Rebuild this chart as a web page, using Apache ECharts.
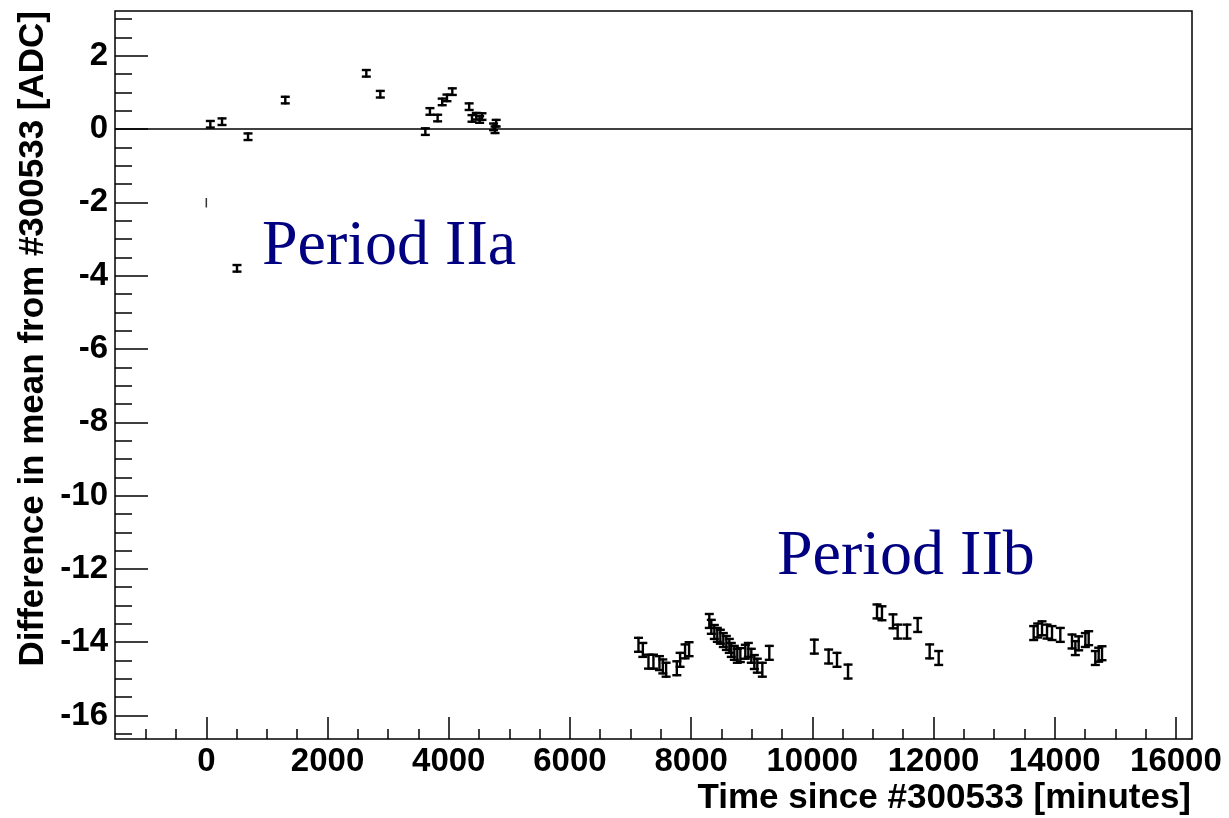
<!DOCTYPE html>
<html>
<head>
<meta charset="utf-8">
<script src="https://cdn.jsdelivr.net/npm/echarts@6/dist/echarts.min.js"></script>
<style>
html,body{margin:0;padding:0;background:#fff;}
#chart{width:1229px;height:818px;}
</style>
</head>
<body>
<div id="chart"></div>
<script>
// ---- data ----
// Period IIa: time [minutes], difference [ADC], error [ADC]
const xA = [66, 259, 506, 688, 1303, 2640, 2871, 3614, 3690, 3817, 3892, 3971, 4059, 4337, 4384, 4455, 4510, 4549, 4740, 4764, 4783];
const yA = [0.13, 0.2, -3.8, -0.21, 0.79, 1.52, 0.95, -0.07, 0.48, 0.3, 0.74, 0.85, 1.02, 0.61, 0.29, 0.35, 0.26, 0.34, 0.06, -0.02, 0.16];
const eA = [0.09, 0.09, 0.09, 0.09, 0.09, 0.09, 0.09, 0.09, 0.09, 0.09, 0.09, 0.09, 0.09, 0.09, 0.09, 0.09, 0.09, 0.09, 0.09, 0.09, 0.09];
// reference run point (drawn as a bare bar)
const xR = [0];
const yR = [-2.01];
const eR = [0.13];
// Period IIb
const xB = [7131, 7203, 7296, 7378, 7477, 7533, 7587, 7764, 7818, 7900, 7966,
            8300, 8333, 8383, 8432, 8482, 8531, 8581, 8630, 8663, 8713, 8762, 8812, 8894, 8944, 8993, 9043, 9092, 9175, 9290,
            10033, 10269, 10407, 10589,
            11067, 11149, 11331, 11408, 11562, 11738, 11936, 12085,
            13652, 13718, 13790, 13873, 13955, 14092, 14285, 14340, 14395, 14505, 14560, 14670, 14725, 14780];
const yB = [-14.07, -14.21, -14.53, -14.53, -14.57, -14.66, -14.75, -14.71, -14.48, -14.25, -14.19,
            -13.42, -13.58, -13.72, -13.80, -13.85, -13.94, -14.02, -14.10, -14.21, -14.29, -14.37, -14.35, -14.26, -14.21, -14.37, -14.54, -14.64, -14.75, -14.29,
            -14.12, -14.39, -14.48, -14.80,
            -13.16, -13.21, -13.43, -13.71, -13.71, -13.53, -14.25, -14.43,
            -13.75, -13.68, -13.62, -13.71, -13.75, -13.80, -13.98, -14.16, -14.03, -13.94, -13.89, -14.43, -14.34, -14.30];
const eB = [0.19, 0.19, 0.19, 0.19, 0.19, 0.19, 0.19, 0.19, 0.19, 0.19, 0.19,
            0.19, 0.19, 0.19, 0.19, 0.19, 0.19, 0.19, 0.19, 0.19, 0.19, 0.19, 0.19, 0.19, 0.19, 0.19, 0.19, 0.19, 0.19, 0.19,
            0.19, 0.19, 0.19, 0.19,
            0.19, 0.19, 0.19, 0.19, 0.19, 0.19, 0.19, 0.19,
            0.19, 0.19, 0.19, 0.19, 0.19, 0.19, 0.19, 0.19, 0.19, 0.19, 0.19, 0.19, 0.19, 0.19];
// axis ranges and tick labels
const xRange = [-1507, 16265];
const yRange = [-16.64, 3.22];
const xMajor = [0, 2000, 4000, 6000, 8000, 10000, 12000, 14000, 16000];
const xMinor = [-1000, -500, 500, 1000, 1500, 2500, 3000, 3500, 4500, 5000, 5500, 6500, 7000, 7500, 8500, 9000, 9500, 10500, 11000, 11500, 12500, 13000, 13500, 14500, 15000, 15500, 16000];
const yMajor = [-16, -14, -12, -10, -8, -6, -4, -2, 0, 2];
const yMinor = [-16.5, -15.5, -15, -14.5, -13.5, -13, -12.5, -11.5, -11, -10.5, -9.5, -9, -8.5, -7.5, -7, -6.5, -5.5, -5, -4.5, -3.5, -3, -2.5, -1.5, -1, -0.5, 0.5, 1, 1.5, 2.5, 3];
const xTitle = 'Time since #300533 [minutes]';
const yTitle = 'Difference in mean from #300533 [ADC]';
const labelA = 'Period IIa';
const labelB = 'Period IIb';

// ---- chart ----
const chart = echarts.init(document.getElementById('chart'), null, {renderer: 'canvas'});
const FONT = '"Liberation Sans", Arial, sans-serif';

function errBar(caps) {
  return function (params, api) {
    const x = api.value(0), y = api.value(1), e = api.value(2);
    const pt = api.coord([x, y]);
    const top = api.coord([x, y + e])[1];
    const bot = api.coord([x, y - e])[1];
    const hw = 4.5;
    const st = {stroke: caps ? '#000' : '#333', lineWidth: caps ? 2.4 : 1.5};
    const ch = [{type: 'line', shape: {x1: pt[0], y1: top - (caps ? 1 : 0), x2: pt[0], y2: bot + (caps ? 1 : 0)}, style: st}];
    if (caps) {
      ch.push({type: 'line', shape: {x1: pt[0] - hw, y1: top, x2: pt[0] + hw, y2: top}, style: st});
      ch.push({type: 'line', shape: {x1: pt[0] - hw, y1: bot, x2: pt[0] + hw, y2: bot}, style: st});
    }
    return {type: 'group', children: ch};
  };
}

const tickStyle = {color: '#000', width: 1.5};
const labelStyle = {color: '#000', fontSize: 33, fontWeight: 'bold', fontFamily: FONT, formatter: v => String(v)};
const hiddenLine = {show: false, onZero: false};

const option = {
  backgroundColor: '#fff',
  animation: false,
  grid: {left: 115, right: 37, top: 11, bottom: 79, show: true, borderColor: '#000', borderWidth: 1.5, backgroundColor: 'transparent'},
  xAxis: [
    {type: 'value', min: xRange[0], max: xRange[1], position: 'bottom',
     axisLine: hiddenLine, splitLine: {show: false},
     axisTick: {show: true, inside: true, length: 22, customValues: xMajor, lineStyle: tickStyle},
     axisLabel: Object.assign({customValues: xMajor, margin: 6}, labelStyle)},
    {type: 'value', min: xRange[0], max: xRange[1], position: 'bottom',
     axisLine: hiddenLine, splitLine: {show: false},
     axisTick: {show: true, inside: true, length: 10, customValues: xMinor, lineStyle: tickStyle},
     axisLabel: {show: false}}
  ],
  yAxis: [
    {type: 'value', min: yRange[0], max: yRange[1], position: 'left',
     axisLine: hiddenLine, splitLine: {show: false},
     axisTick: {show: true, inside: true, length: 33, customValues: yMajor, lineStyle: tickStyle},
     axisLabel: Object.assign({customValues: yMajor, margin: 7}, labelStyle)},
    {type: 'value', min: yRange[0], max: yRange[1], position: 'left',
     axisLine: hiddenLine, splitLine: {show: false},
     axisTick: {show: true, inside: true, length: 17, customValues: yMinor, lineStyle: tickStyle},
     axisLabel: {show: false}}
  ],
  series: [
    {type: 'line', data: [], xAxisIndex: 0, yAxisIndex: 0, silent: true,
     markLine: {silent: true, symbol: 'none', label: {show: false},
       lineStyle: {color: '#000', width: 1.5, type: 'solid'}, data: [{yAxis: 0}]}},
    {type: 'custom', name: 'IIa', xAxisIndex: 0, yAxisIndex: 0, clip: true,
     renderItem: errBar(true), data: xA.map((x, i) => [x, yA[i], eA[i]])},
    {type: 'custom', name: 'ref', xAxisIndex: 0, yAxisIndex: 0, clip: true,
     renderItem: errBar(false), data: xR.map((x, i) => [x, yR[i], eR[i]])},
    {type: 'custom', name: 'IIb', xAxisIndex: 0, yAxisIndex: 0, clip: true,
     renderItem: errBar(true), data: xB.map((x, i) => [x, yB[i], eB[i]])}
  ],
  graphic: [
    {type: 'text', x: 1191, y: 798, style: {text: xTitle, align: 'right', verticalAlign: 'middle', font: 'bold 35px ' + FONT, fill: '#000'}},
    {type: 'text', x: 33, y: 11, rotation: Math.PI / 2, style: {text: yTitle, align: 'right', verticalAlign: 'middle', font: 'bold 35px ' + FONT, fill: '#000'}},
    {type: 'text', x: 262, y: 247, style: {text: labelA, align: 'left', verticalAlign: 'middle', font: '64px "Liberation Serif", "Times New Roman", serif', fill: '#000080'}},
    {type: 'text', x: 777, y: 557, style: {text: labelB, align: 'left', verticalAlign: 'middle', font: '64px "Liberation Serif", "Times New Roman", serif', fill: '#000080'}}
  ]
};
chart.setOption(option);
</script>
</body>
</html>
